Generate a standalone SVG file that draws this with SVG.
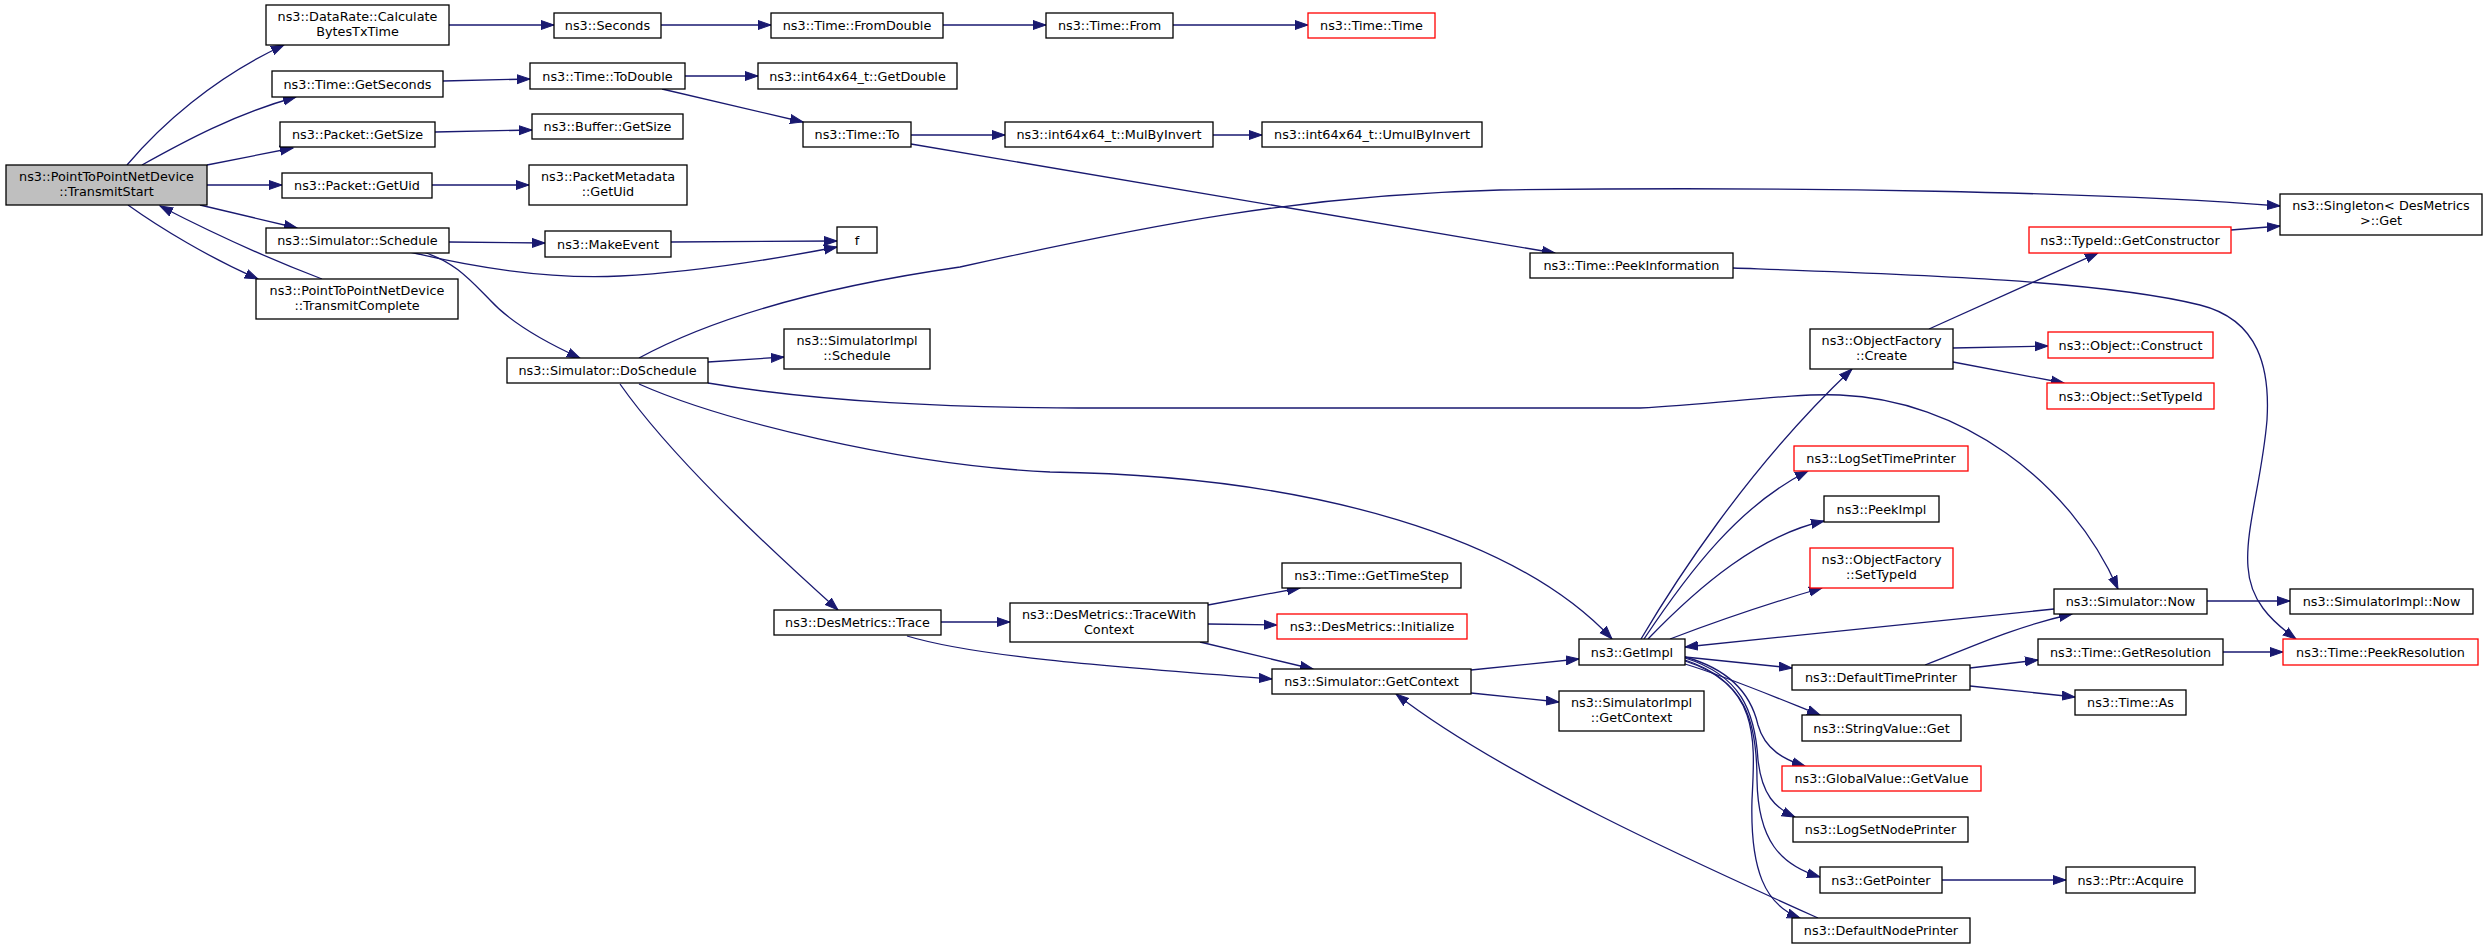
<svg xmlns="http://www.w3.org/2000/svg" width="2488" height="949" viewBox="0 0 2488 949">
<style>
.n rect{fill:#ffffff;stroke:#000000;stroke-width:1.3}
.n.r rect{stroke:#ff0000}
.n.root rect{fill:#bfbfbf}
text{font-family:"DejaVu Sans","Liberation Sans",sans-serif;font-size:12.8px;text-anchor:middle;fill:#000000}
#edges path{fill:none;stroke:#191970;stroke-width:1.3;marker-end:url(#ah)}
</style>
<defs>
<marker id="ah" markerUnits="userSpaceOnUse" markerWidth="15" markerHeight="11" refX="13" refY="5.5" orient="auto">
<path d="M0,1 L13,5.5 L0,10 z" fill="#191970" stroke="#191970" stroke-width="1"/>
</marker>
</defs>
<rect width="2488" height="949" fill="#ffffff"/>
<g id="edges">
<path d="M127,165 C160,126 213,78 284,45"/>
<path d="M142,165 C185,141 235,114 296,97"/>
<path d="M207,165 L293,148"/>
<path d="M207,185 L282,185"/>
<path d="M200,205 L297,228"/>
<path d="M128,205 C160,228 210,258 258,279"/>
<path d="M322,279 C280,263 220,237 160,206"/>
<path d="M449,25 L554,25"/>
<path d="M661,25 L771,25"/>
<path d="M943,25 L1046,25"/>
<path d="M1173,25 L1308,25"/>
<path d="M443,81 L530,79"/>
<path d="M685,76 L758,76"/>
<path d="M662,89 L803,122"/>
<path d="M435,132 L532,130"/>
<path d="M432,185 L529,185"/>
<path d="M449,242 L545,243"/>
<path d="M671,242 L837,241"/>
<path d="M410,252 C460,264 540,280 620,276 C700,272 780,258 837,247"/>
<path d="M423,252 C455,262 470,280 490,300 C510,322 545,342 580,358"/>
<path d="M639,358 C700,325 800,290 960,267 C1150,225 1300,195 1500,190 C1800,186 2100,192 2280,206"/>
<path d="M708,362 L784,357"/>
<path d="M708,383 C820,402 950,408 1100,408 L1640,408 C1720,404 1790,393 1840,395 C1960,400 2070,480 2118,589"/>
<path d="M639,384 C720,420 900,465 1050,472 C1320,476 1520,540 1612,639"/>
<path d="M620,384 C670,455 760,540 838,610"/>
<path d="M911,135 L1005,135"/>
<path d="M1213,135 L1262,135"/>
<path d="M911,144 L1555,253"/>
<path d="M1733,268 C1900,274 2100,280 2200,305 C2260,320 2270,370 2267,420 C2262,480 2245,530 2248,567 C2250,600 2270,620 2296,639"/>
<path d="M2231,230 L2280,226"/>
<path d="M1929,329 L2098,253"/>
<path d="M1953,348 L2048,346"/>
<path d="M1953,362 L2064,383"/>
<path d="M1641,639 C1670,590 1745,470 1852,369"/>
<path d="M1644,639 C1690,570 1740,505 1808,471"/>
<path d="M1648,639 C1700,585 1760,535 1824,521"/>
<path d="M1670,639 C1720,620 1770,603 1822,588"/>
<path d="M2054,609 L1685,647"/>
<path d="M1685,657 L1792,668"/>
<path d="M1685,664 C1725,676 1775,697 1820,715"/>
<path d="M1685,657 C1725,668 1750,690 1758,725 C1765,750 1785,760 1805,766"/>
<path d="M1685,658 C1740,675 1755,710 1758,760 C1762,795 1775,808 1795,817"/>
<path d="M1685,660 C1745,680 1757,720 1757,780 C1758,840 1780,865 1820,877"/>
<path d="M1685,661 C1760,685 1755,740 1752,800 C1750,870 1765,905 1800,918"/>
<path d="M1818,918 C1700,865 1500,775 1396,694"/>
<path d="M2207,601 L2290,601"/>
<path d="M1925,665 C1965,650 2010,628 2072,614"/>
<path d="M1970,668 L2038,660"/>
<path d="M1970,686 L2075,697"/>
<path d="M2223,652 L2283,652"/>
<path d="M1942,880 L2066,880"/>
<path d="M941,622 L1010,622"/>
<path d="M907,636 C980,658 1130,668 1272,679"/>
<path d="M1208,605 L1300,588"/>
<path d="M1208,624 L1277,625"/>
<path d="M1200,642 L1313,669"/>
<path d="M1471,670 L1579,659"/>
<path d="M1471,693 L1559,702"/>
</g>
<g id="n1" class="n root"><rect x="6" y="165" width="201" height="40"/><text x="106.5" y="180.5">ns3::PointToPointNetDevice</text><text x="106.5" y="195.5">::TransmitStart</text></g>
<g id="n2" class="n"><rect x="266" y="5" width="183" height="40"/><text x="357.5" y="20.5">ns3::DataRate::Calculate</text><text x="357.5" y="35.5">BytesTxTime</text></g>
<g id="n3" class="n"><rect x="272" y="71" width="171" height="26"/><text x="357.5" y="88.5">ns3::Time::GetSeconds</text></g>
<g id="n4" class="n"><rect x="280" y="122" width="155" height="25"/><text x="357.5" y="139">ns3::Packet::GetSize</text></g>
<g id="n5" class="n"><rect x="282" y="173" width="150" height="25"/><text x="357" y="190">ns3::Packet::GetUid</text></g>
<g id="n6" class="n"><rect x="266" y="228" width="183" height="25"/><text x="357.5" y="245">ns3::Simulator::Schedule</text></g>
<g id="n7" class="n"><rect x="256" y="279" width="202" height="40"/><text x="357" y="294.5">ns3::PointToPointNetDevice</text><text x="357" y="309.5">::TransmitComplete</text></g>
<g id="n8" class="n"><rect x="554" y="13" width="107" height="25"/><text x="607.5" y="30">ns3::Seconds</text></g>
<g id="n9" class="n"><rect x="530" y="63" width="155" height="26"/><text x="607.5" y="80.5">ns3::Time::ToDouble</text></g>
<g id="n10" class="n"><rect x="532" y="114" width="151" height="25"/><text x="607.5" y="131">ns3::Buffer::GetSize</text></g>
<g id="n11" class="n"><rect x="529" y="165" width="158" height="40"/><text x="608" y="180.5">ns3::PacketMetadata</text><text x="608" y="195.5">::GetUid</text></g>
<g id="n12" class="n"><rect x="545" y="231" width="126" height="26"/><text x="608" y="248.5">ns3::MakeEvent</text></g>
<g id="n13" class="n"><rect x="837" y="227" width="40" height="26"/><text x="857" y="244.5">f</text></g>
<g id="n14" class="n"><rect x="507" y="358" width="201" height="25"/><text x="607.5" y="375">ns3::Simulator::DoSchedule</text></g>
<g id="n15" class="n"><rect x="771" y="13" width="172" height="25"/><text x="857" y="30">ns3::Time::FromDouble</text></g>
<g id="n16" class="n"><rect x="758" y="63" width="199" height="26"/><text x="857.5" y="80.5">ns3::int64x64_t::GetDouble</text></g>
<g id="n17" class="n"><rect x="803" y="122" width="108" height="25"/><text x="857" y="139">ns3::Time::To</text></g>
<g id="n18" class="n"><rect x="1046" y="13" width="127" height="25"/><text x="1109.5" y="30">ns3::Time::From</text></g>
<g id="n19" class="n r"><rect x="1308" y="13" width="127" height="25"/><text x="1371.5" y="30">ns3::Time::Time</text></g>
<g id="n20" class="n"><rect x="1005" y="122" width="208" height="25"/><text x="1109" y="139">ns3::int64x64_t::MulByInvert</text></g>
<g id="n21" class="n"><rect x="1262" y="122" width="220" height="25"/><text x="1372" y="139">ns3::int64x64_t::UmulByInvert</text></g>
<g id="n22" class="n"><rect x="1530" y="253" width="203" height="25"/><text x="1631.5" y="270">ns3::Time::PeekInformation</text></g>
<g id="n23" class="n"><rect x="2280" y="194" width="202" height="41"/><text x="2381" y="210">ns3::Singleton&lt; DesMetrics</text><text x="2381" y="225">&gt;::Get</text></g>
<g id="n24" class="n r"><rect x="2029" y="227" width="202" height="26"/><text x="2130" y="244.5">ns3::TypeId::GetConstructor</text></g>
<g id="n25" class="n"><rect x="1810" y="329" width="143" height="40"/><text x="1881.5" y="344.5">ns3::ObjectFactory</text><text x="1881.5" y="359.5">::Create</text></g>
<g id="n26" class="n r"><rect x="2048" y="332" width="165" height="26"/><text x="2130.5" y="349.5">ns3::Object::Construct</text></g>
<g id="n27" class="n r"><rect x="2047" y="383" width="167" height="26"/><text x="2130.5" y="400.5">ns3::Object::SetTypeId</text></g>
<g id="n28" class="n"><rect x="784" y="329" width="146" height="40"/><text x="857" y="344.5">ns3::SimulatorImpl</text><text x="857" y="359.5">::Schedule</text></g>
<g id="n29" class="n r"><rect x="1794" y="446" width="174" height="25"/><text x="1881" y="463">ns3::LogSetTimePrinter</text></g>
<g id="n30" class="n"><rect x="1824" y="496" width="115" height="26"/><text x="1881.5" y="513.5">ns3::PeekImpl</text></g>
<g id="n31" class="n r"><rect x="1810" y="548" width="143" height="40"/><text x="1881.5" y="563.5">ns3::ObjectFactory</text><text x="1881.5" y="578.5">::SetTypeId</text></g>
<g id="n32" class="n"><rect x="2054" y="589" width="153" height="25"/><text x="2130.5" y="606">ns3::Simulator::Now</text></g>
<g id="n33" class="n"><rect x="2290" y="589" width="183" height="25"/><text x="2381.5" y="606">ns3::SimulatorImpl::Now</text></g>
<g id="n34" class="n"><rect x="774" y="610" width="167" height="25"/><text x="857.5" y="627">ns3::DesMetrics::Trace</text></g>
<g id="n35" class="n"><rect x="1010" y="603" width="198" height="39"/><text x="1109" y="618.5">ns3::DesMetrics::TraceWith</text><text x="1109" y="633.5">Context</text></g>
<g id="n36" class="n"><rect x="1282" y="563" width="179" height="25"/><text x="1371.5" y="580">ns3::Time::GetTimeStep</text></g>
<g id="n37" class="n r"><rect x="1277" y="614" width="190" height="25"/><text x="1372" y="631">ns3::DesMetrics::Initialize</text></g>
<g id="n38" class="n"><rect x="1579" y="639" width="106" height="26"/><text x="1632" y="656.5">ns3::GetImpl</text></g>
<g id="n39" class="n"><rect x="1272" y="669" width="199" height="25"/><text x="1371.5" y="686">ns3::Simulator::GetContext</text></g>
<g id="n40" class="n"><rect x="1559" y="691" width="145" height="40"/><text x="1631.5" y="706.5">ns3::SimulatorImpl</text><text x="1631.5" y="721.5">::GetContext</text></g>
<g id="n41" class="n"><rect x="1792" y="665" width="178" height="25"/><text x="1881" y="682">ns3::DefaultTimePrinter</text></g>
<g id="n42" class="n"><rect x="2038" y="639" width="185" height="26"/><text x="2130.5" y="656.5">ns3::Time::GetResolution</text></g>
<g id="n43" class="n"><rect x="2075" y="690" width="111" height="25"/><text x="2130.5" y="707">ns3::Time::As</text></g>
<g id="n44" class="n r"><rect x="2283" y="639" width="195" height="26"/><text x="2380.5" y="656.5">ns3::Time::PeekResolution</text></g>
<g id="n45" class="n"><rect x="1802" y="715" width="159" height="26"/><text x="1881.5" y="732.5">ns3::StringValue::Get</text></g>
<g id="n46" class="n r"><rect x="1782" y="766" width="199" height="25"/><text x="1881.5" y="783">ns3::GlobalValue::GetValue</text></g>
<g id="n47" class="n"><rect x="1793" y="817" width="175" height="25"/><text x="1880.5" y="834">ns3::LogSetNodePrinter</text></g>
<g id="n48" class="n"><rect x="1820" y="867" width="122" height="26"/><text x="1881" y="884.5">ns3::GetPointer</text></g>
<g id="n49" class="n"><rect x="2066" y="867" width="129" height="26"/><text x="2130.5" y="884.5">ns3::Ptr::Acquire</text></g>
<g id="n50" class="n"><rect x="1792" y="918" width="178" height="25"/><text x="1881" y="935">ns3::DefaultNodePrinter</text></g>
</svg>
